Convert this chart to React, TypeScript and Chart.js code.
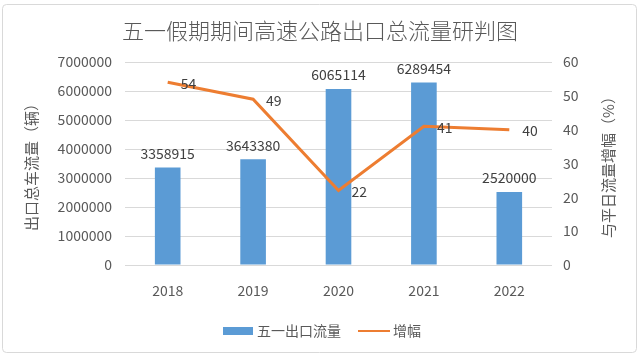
import React, { useEffect, useRef } from "react";
import Chart from "chart.js/auto";

const categories = ["2018", "2019", "2020", "2021", "2022"];
const exitFlow = [3358915, 3643380, 6065114, 6289454, 2520000];
const growth = [54, 49, 22, 41, 40];
const titleText = "五一假期期间高速公路出口总流量研判图";
const leftAxisTitle = "出口总车流量（辆）";
const rightAxisTitle = "与平日流量增幅（%）";
const barLabel = "五一出口流量";
const lineLabel = "增幅";

const FONT = "'Noto Sans CJK SC', 'Noto Sans', sans-serif";
const BLUE = "#5B9BD5";
const ORANGE = "#ED7D31";
const TEXT = "#595959";
const LABEL = "#404040";

const decorPlugin = {
  id: "decor",
  beforeDraw(chart: any) {
    const ctx = chart.ctx;
    ctx.save();
    ctx.fillStyle = "#ffffff";
    ctx.fillRect(0, 0, chart.width, chart.height);
    ctx.strokeStyle = "#d9d9d9";
    ctx.lineWidth = 1;
    ctx.beginPath();
    (ctx as any).roundRect ? (ctx as any).roundRect(2.5, 4.5, 634, 348, 4) : ctx.rect(2.5, 4.5, 634, 348);
    ctx.stroke();
    ctx.restore();
  },
  afterDraw(chart: any) {
    const ctx = chart.ctx;
    const area = chart.chartArea;
    ctx.save();
    ctx.fillStyle = TEXT;
    ctx.font = `300 22px ${FONT}`;
    ctx.textAlign = "center";
    ctx.textBaseline = "middle";
    ctx.fillText(titleText, 320, 31);
    const midY = (area.top + area.bottom) / 2;
    ctx.font = `15px ${FONT}`;
    ctx.save();
    ctx.translate(31, midY);
    ctx.rotate(-Math.PI / 2);
    ctx.fillText(leftAxisTitle, 0, 0);
    ctx.restore();
    ctx.save();
    ctx.translate(608, midY);
    ctx.rotate(-Math.PI / 2);
    ctx.fillText(rightAxisTitle, 0, 0);
    ctx.restore();
    const ly = 331;
    ctx.fillStyle = BLUE;
    ctx.fillRect(223, ly - 4, 30, 8);
    ctx.fillStyle = TEXT;
    ctx.font = `14px ${FONT}`;
    ctx.textAlign = "left";
    ctx.fillText(barLabel, 257, ly);
    ctx.strokeStyle = ORANGE;
    ctx.lineWidth = 2;
    ctx.beginPath();
    ctx.moveTo(358, ly);
    ctx.lineTo(390, ly);
    ctx.stroke();
    ctx.fillText(lineLabel, 393, ly);
    ctx.restore();
  },
  afterDatasetsDraw(chart: any) {
    const ctx = chart.ctx;
    ctx.save();
    ctx.fillStyle = LABEL;
    ctx.font = `14px ${FONT}`;
    const barMeta = chart.getDatasetMeta(0);
    ctx.textAlign = "center";
    ctx.textBaseline = "bottom";
    barMeta.data.forEach((el: any, i: number) => {
      ctx.fillText(String(exitFlow[i]), el.x, el.y - 7);
    });
    const lineMeta = chart.getDatasetMeta(1);
    ctx.textAlign = "left";
    ctx.textBaseline = "middle";
    lineMeta.data.forEach((el: any, i: number) => {
      ctx.fillText(String(growth[i]), el.x + 13, el.y + 1);
    });
    ctx.restore();
  },
};

export default function App() {
  const ref = useRef<HTMLCanvasElement>(null);
  useEffect(() => {
    document.body.style.margin = "0";
    const chart = new Chart(ref.current as HTMLCanvasElement, {
      type: "bar",
      data: {
        labels: categories,
        datasets: [
          {
            type: "bar",
            label: barLabel,
            data: exitFlow,
            backgroundColor: BLUE,
            barPercentage: 0.6,
            categoryPercentage: 0.5,
            yAxisID: "y",
            order: 1,
          },
          {
            type: "line",
            label: lineLabel,
            data: growth,
            borderColor: ORANGE,
            backgroundColor: ORANGE,
            borderWidth: 3,
            pointRadius: 0,
            tension: 0,
            yAxisID: "y1",
            order: 0,
          } as any,
        ],
      },
      options: {
        responsive: false,
        animation: false,
        layout: { padding: { top: 62, left: 0, right: 0, bottom: 0 } },
        plugins: {
          legend: { display: false },
          tooltip: { enabled: false },
          title: { display: false },
        },
        scales: {
          x: {
            grid: { display: false, drawTicks: false },
            border: { display: false },
            ticks: { color: TEXT, font: { size: 14, family: FONT }, padding: 17 },
            afterFit: (s: any) => { s.height = 93; },
          },
          y: {
            position: "left",
            min: 0,
            max: 7000000,
            ticks: {
              stepSize: 1000000,
              color: TEXT,
              font: { size: 14, family: FONT },
              padding: 13,
              callback: (v: any) => String(v),
            },
            grid: { color: "#d9d9d9", drawTicks: false },
            border: { display: false },
            afterFit: (s: any) => { s.width = 125; },
          },
          y1: {
            position: "right",
            min: 0,
            max: 60,
            ticks: {
              stepSize: 10,
              color: TEXT,
              font: { size: 14, family: FONT },
              padding: 11,
              callback: (v: any) => String(v),
            },
            grid: { display: false, drawTicks: false },
            border: { display: false },
            afterFit: (s: any) => { s.width = 88; },
          },
        },
      } as any,
      plugins: [decorPlugin],
    });
    return () => chart.destroy();
  }, []);
  return (
    <div style={{ position: "fixed", left: 0, top: 0, width: 640, height: 358 }}>
      <canvas ref={ref} width={640} height={358} />
    </div>
  );
}
